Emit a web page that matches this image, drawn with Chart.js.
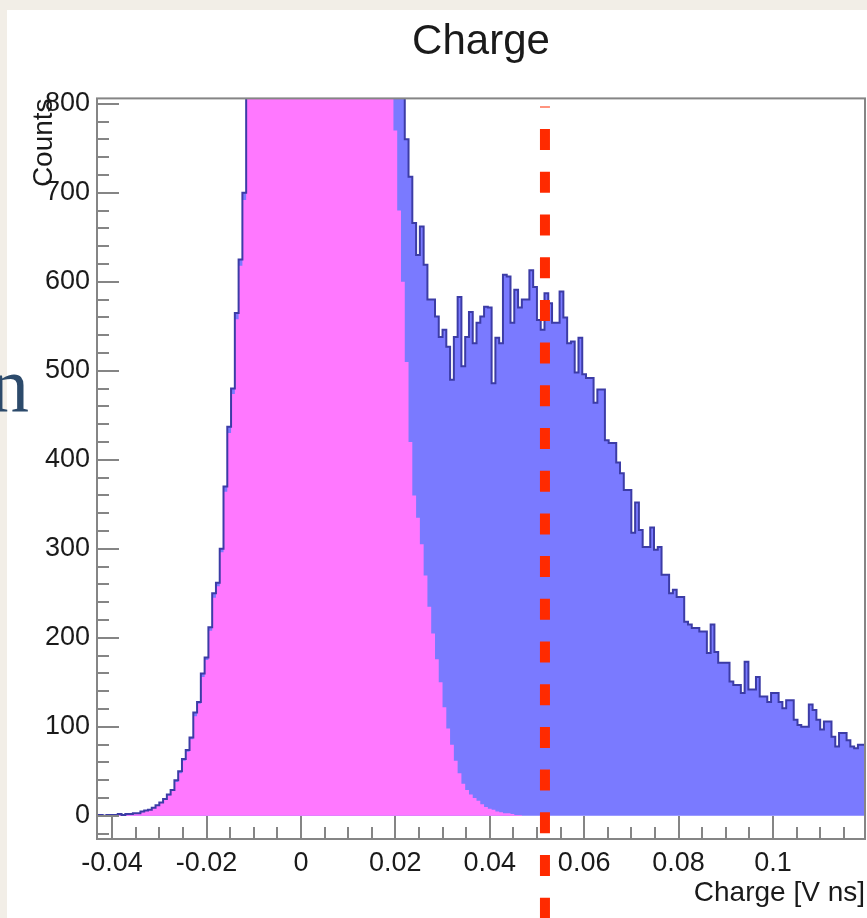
<!DOCTYPE html>
<html>
<head>
<meta charset="utf-8">
<script src="https://cdn.jsdelivr.net/npm/chart.js@4.4.1/dist/chart.umd.min.js"></script>
<style>
  html, body { margin: 0; padding: 0; }
  body { width: 867px; height: 918px; background: #f2eee7; position: relative; overflow: hidden; }
  #panel { position: absolute; left: 7px; top: 10px; width: 860px; height: 908px; background: #fff; }
  #slide-text { position: absolute; left: -10px; top: 346px; font: 78px "Liberation Serif", "DejaVu Serif", serif; line-height: 80px; color: #2c4a6b; z-index: 2; }
</style>
</head>
<body>
<div id="panel"><canvas id="charge-chart" width="860" height="908"></canvas></div>
<div id="slide-text">n</div>
<script>
// histogram bins (left edges start at binStart, fixed width)
const binStart = -0.0436;
const binWidth = 0.0008;

// all events (blue)
const totalCounts = [
  0, 1, 0, 1, 1, 1, 2, 1, 2, 2,
  3, 3, 5, 6, 7, 9, 12, 15, 19, 24,
  29, 40, 50, 64, 74, 88, 116, 128, 160, 178,
  212, 250, 262, 300, 370, 437, 480, 565, 625, 700,
  820, 890, 970, 1060, 1160, 1260, 1370, 1480, 1590, 1700,
  1810, 1910, 2000, 2090, 2160, 2230, 2280, 2310, 2330, 2320,
  2300, 2260, 2210, 2150, 2080, 2000, 1910, 1820, 1720, 1610,
  1500, 1400, 1300, 1200, 1110, 1030, 960, 910, 880, 870,
  850, 820, 760, 718, 666, 630, 662, 619, 580, 580,
  561, 538, 546, 527, 490, 538, 583, 505, 538, 566,
  531, 554, 561, 572, 571, 486, 537, 531, 608, 606,
  554, 591, 571, 580, 580, 613, 594, 557, 546, 587,
  576, 554, 554, 589, 560, 531, 533, 498, 537, 496,
  492, 492, 464, 479, 479, 422, 419, 419, 397, 385,
  366, 366, 318, 352, 321, 302, 302, 324, 299, 302,
  271, 271, 250, 254, 246, 246, 218, 215, 211, 211,
  207, 207, 183, 215, 184, 172, 172, 172, 151, 147,
  147, 138, 173, 142, 142, 156, 134, 134, 128, 138,
  138, 128, 121, 130, 130, 108, 102, 100, 100, 125,
  119, 108, 97, 106, 106, 89, 78, 93, 93, 85,
  78, 76, 80, 80, 82
];

// pedestal (magenta)
const pedestalCounts = [
  0, 1, 0, 1, 1, 1, 1, 1, 2, 2,
  3, 3, 4, 6, 7, 9, 11, 15, 18, 23,
  28, 38, 48, 62, 72, 86, 112, 126, 156, 175,
  208, 245, 258, 296, 364, 430, 474, 558, 618, 692,
  810, 880, 960, 1050, 1150, 1250, 1360, 1470, 1580, 1690,
  1800, 1900, 1990, 2080, 2150, 2220, 2270, 2300, 2320, 2310,
  2290, 2250, 2200, 2140, 2070, 1990, 1900, 1800, 1700, 1590,
  1480, 1370, 1260, 1160, 1060, 970, 900, 860, 830, 770,
  680, 600, 510, 420, 360, 335, 305, 270, 235, 205,
  176, 150, 122, 98, 80, 62, 48, 36, 29, 24,
  20, 17, 13, 10, 8, 7, 5, 4, 3, 3,
  2, 1, 1, 0
];

const cutValue = 0.0517;

const xTickValues = [-0.04, -0.02, 0, 0.02, 0.04, 0.06, 0.08, 0.1];
const xTickLabels = ['-0.04', '-0.02', '0', '0.02', '0.04', '0.06', '0.08', '0.1'];
const yTickValues = [0, 100, 200, 300, 400, 500, 600, 700, 800];

function toSteps(counts) {
  const pts = counts.map((c, i) => ({ x: binStart + i * binWidth, y: c }));
  pts.push({ x: binStart + counts.length * binWidth, y: counts[counts.length - 1] });
  return pts;
}

// ROOT style frame with ticks pointing inwards
const rootAxes = {
  id: 'rootAxes',
  afterDatasetsDraw(chart) {
    const { ctx, chartArea: a, scales: { x, y } } = chart;
    ctx.save();
    ctx.strokeStyle = '#858585';
    ctx.lineWidth = 2;
    ctx.strokeRect(a.left, a.top, a.right - a.left, a.bottom - a.top);
    for (let v = -20; v <= 800; v += 20) {
      const py = Math.round(y.getPixelForValue(v));
      const len = v % 100 === 0 ? 22 : 12;
      ctx.beginPath();
      ctx.moveTo(a.left, py);
      ctx.lineTo(a.left + len, py);
      ctx.stroke();
    }
    for (let k = -8; k <= 23; k++) {
      const px = Math.round(x.getPixelForValue(k * 0.005));
      if (px < a.left || px > a.right) continue;
      const len = k % 4 === 0 ? 23 : 12;
      ctx.beginPath();
      ctx.moveTo(px, a.bottom);
      ctx.lineTo(px, a.bottom - len);
      ctx.stroke();
    }
    ctx.restore();
  }
};

// red dashed cut line, runs past the axis to the bottom edge
const cutLine = {
  id: 'cutLine',
  afterDraw(chart) {
    const { ctx, chartArea: a, scales: { x } } = chart;
    const px = x.getPixelForValue(cutValue);
    ctx.save();
    ctx.strokeStyle = '#ff2a00';
    ctx.lineWidth = 10;
    ctx.setLineDash([21, 21.7]);
    ctx.lineDashOffset = 20;
    ctx.beginPath();
    ctx.moveTo(px, a.top + 8);
    ctx.lineTo(px, chart.height);
    ctx.stroke();
    ctx.restore();
  }
};

Chart.defaults.font.family = '"Liberation Sans", Arial, Helvetica, sans-serif';
Chart.defaults.color = '#1a1a1a';

const ctx = document.getElementById('charge-chart').getContext('2d');
new Chart(ctx, {
  type: 'line',
  data: {
    datasets: [
      {
        label: 'outline',
        data: toSteps(totalCounts),
        stepped: true,
        borderColor: '#3c3ca6',
        borderWidth: 2,
        fill: false,
        pointRadius: 0
      },
      {
        label: 'pedestal',
        data: toSteps(pedestalCounts),
        stepped: true,
        borderColor: 'rgba(0,0,0,0)',
        borderWidth: 0,
        backgroundColor: '#ff78ff',
        fill: 'origin',
        pointRadius: 0
      },
      {
        label: 'total',
        data: toSteps(totalCounts),
        stepped: true,
        borderColor: 'rgba(0,0,0,0)',
        borderWidth: 0,
        backgroundColor: '#7a7aff',
        fill: 'origin',
        pointRadius: 0
      }
    ]
  },
  options: {
    responsive: false,
    animation: false,
    layout: { padding: { left: 0, top: 0, right: 2, bottom: 0 } },
    plugins: {
      legend: { display: false },
      tooltip: { enabled: false },
      title: {
        display: true,
        text: 'Charge',
        fullSize: false,
        color: '#1a1a1a',
        font: { size: 42, weight: 'normal' },
        padding: { top: 7, bottom: 31 }
      }
    },
    scales: {
      x: {
        type: 'linear',
        min: -0.0432,
        max: 0.1195,
        afterFit(scale) { scale.height = 79; },
        afterBuildTicks(scale) { scale.ticks = xTickValues.map(v => ({ value: v })); },
        grid: { display: false, drawTicks: false },
        border: { display: false },
        ticks: {
          autoSkip: false,
          maxRotation: 0,
          padding: 8,
          font: { size: 27 },
          callback: (v, i) => xTickLabels[i]
        },
        title: {
          display: true,
          text: 'Charge [V ns]',
          align: 'end',
          font: { size: 28 },
          padding: { top: 0, bottom: 8 }
        }
      },
      y: {
        min: -26,
        max: 806,
        afterFit(scale) { scale.width = 90; },
        afterBuildTicks(scale) { scale.ticks = yTickValues.map(v => ({ value: v })); },
        grid: { display: false, drawTicks: false },
        border: { display: false },
        ticks: { padding: 7, font: { size: 27 } },
        title: {
          display: true,
          text: 'Counts',
          align: 'end',
          font: { size: 28 },
          padding: { top: 20, bottom: 0 }
        }
      }
    }
  },
  plugins: [rootAxes, cutLine]
});
</script>
</body>
</html>
